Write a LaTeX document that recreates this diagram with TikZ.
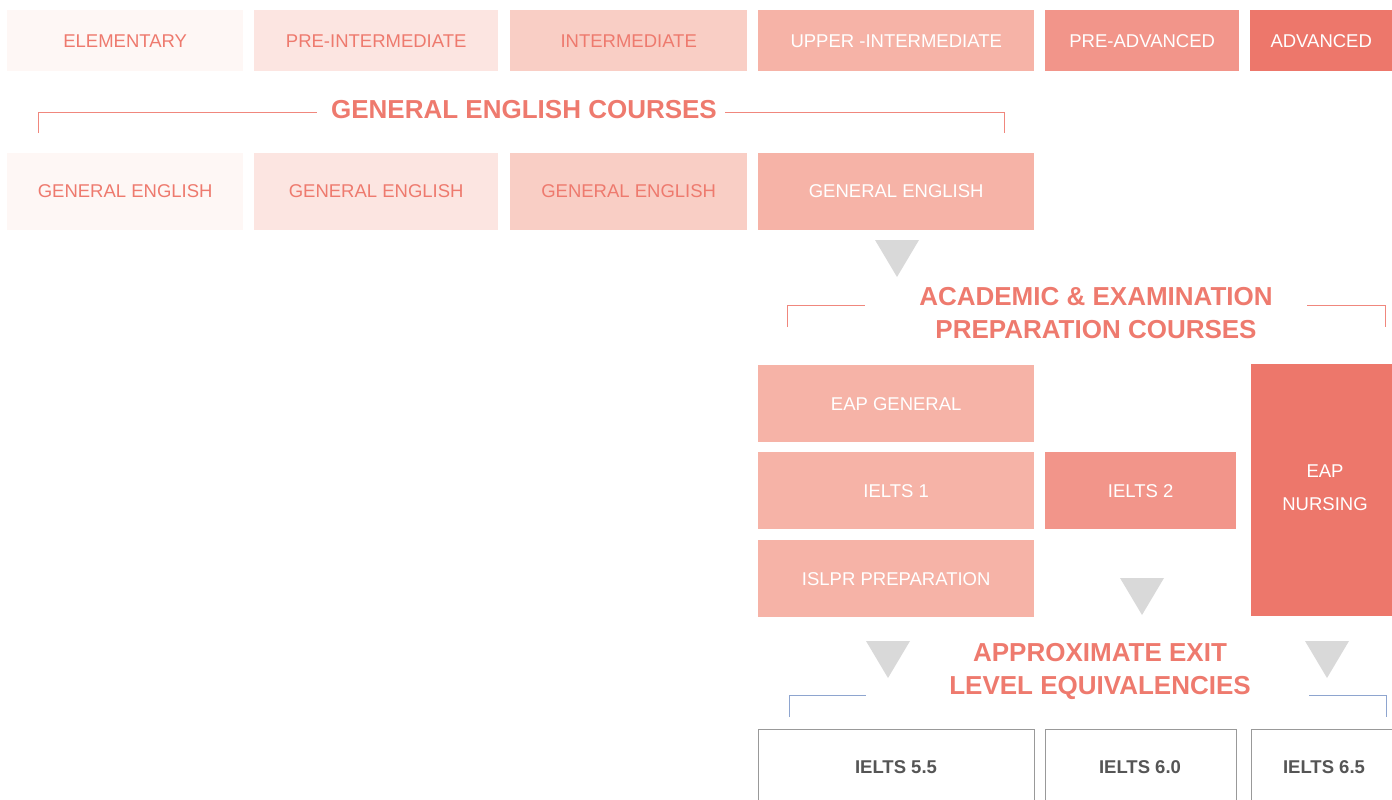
\documentclass[tikz,border=0pt]{standalone}
\usepackage{fontspec}
\setmainfont{Liberation Sans}
\usetikzlibrary{positioning}
\definecolor{lvA}{HTML}{FEF7F5}
\definecolor{lvB}{HTML}{FCE5E1}
\definecolor{lvC}{HTML}{F9CEC5}
\definecolor{lvD}{HTML}{F6B3A7}
\definecolor{lvE}{HTML}{F2958A}
\definecolor{lvF}{HTML}{ED776B}
\definecolor{salmon}{HTML}{EE7A6E}
\definecolor{trigray}{HTML}{D9D9D9}
\definecolor{exitblue}{HTML}{8EA5CF}
\definecolor{exitgray}{HTML}{555555}
\tikzset{
  lvl/.style={fill=#1, minimum height=61pt, inner sep=0pt, text=salmon,
    text height=13.2pt, text depth=0pt, font=\fontsize{18.5}{22}\selectfont},
  lvlw/.style={lvl=#1, text=white},
  crs/.style={lvl=#1, minimum height=77pt},
  crsw/.style={crs=#1, text=white},
  exitbox/.style={draw=gray!80, line width=1pt, fill=white, minimum height=90pt,
    inner sep=0pt},
  exittext/.style={text=exitgray, font=\fontsize{18.5}{22}\selectfont\bfseries},
  heading/.style={text=salmon, align=center, font=\fontsize{26}{33}\selectfont\bfseries},
  bracket/.style={draw=salmon!90, line width=1pt},
  exitbracket/.style={draw=exitblue, line width=1pt}
}
\begin{document}
\begin{tikzpicture}[x=1pt,y=-1pt,node distance=10.6pt]
\useasboundingbox (0,0) rectangle (1392,800);
\clip (0,0) rectangle (1392,800);

\node[lvl=lvA, minimum width=236pt, anchor=north west] (elem) at (7,10) {ELEMENTARY};
\node[lvl=lvB, minimum width=244pt, right=of elem] (preint) {PRE-INTERMEDIATE};
\node[lvl=lvC, minimum width=237pt, right=11.6pt of preint] (inter) {INTERMEDIATE};
\node[lvlw=lvD, minimum width=276pt, right=of inter] (upper) {UPPER -INTERMEDIATE};
\node[lvlw=lvE, minimum width=194pt, right=of upper] (preadv) {PRE-ADVANCED};
\node[lvlw=lvF, minimum width=142pt, right=of preadv] (adv) {ADVANCED};

\node[heading] (gecourses) at (524,110) {GENERAL ENGLISH COURSES};
\draw[bracket] (38,133) |- (317,112);
\draw[bracket] (725,112) -| (1004,133);

\node[crs=lvA, minimum width=236pt, below=81pt of elem] (geA) {GENERAL ENGLISH};
\node[crs=lvB, minimum width=244pt, below=81pt of preint] (geB) {GENERAL ENGLISH};
\node[crs=lvC, minimum width=237pt, below=81pt of inter] (geC) {GENERAL ENGLISH};
\node[crsw=lvD, minimum width=276pt, below=81pt of upper] (geD) {GENERAL ENGLISH};

\node[heading] (acad) at (1096,313) {ACADEMIC \& EXAMINATION\\PREPARATION COURSES};
\draw[bracket] (787,327) |- (865,305);
\draw[bracket] (1307,305) -| (1385,327);

\node[crsw=lvD, minimum width=276pt, below=135pt of geD] (eapgen) {EAP GENERAL};
\node[crsw=lvD, minimum width=276pt, below=10pt of eapgen] (ielts1) {IELTS 1};
\node[crsw=lvD, minimum width=276pt, below=of ielts1] (islpr) {ISLPR PREPARATION};
\node[crsw=lvE, minimum width=191pt, right=of ielts1] (ielts2) {IELTS 2};
\node[lvlw=lvF, minimum width=141pt, minimum height=252pt, anchor=north west] (nursing) at (1251,364) {};
\node[text=white, align=center, font=\fontsize{18.5}{33}\selectfont] (nursingtxt) at (1325,488) {EAP\\NURSING};

\foreach \x/\y in {897/240, 1142/578, 888/641, 1327/641}
  \fill[trigray] (\x-22,\y) -- (\x+22,\y) -- (\x,\y+37) -- cycle;

\node[heading] (exit) at (1100,671) {APPROXIMATE EXIT\\LEVEL EQUIVALENCIES};
\draw[exitbracket] (789,717) |- (866,695);
\draw[exitbracket] (1309,695) -| (1386,717);

\node[exitbox, minimum width=276pt, anchor=north west] (exA) at (758,729) {};
\node[exitbox, minimum width=191pt, anchor=north west] (exB) at (1045,729) {};
\node[exitbox, minimum width=160pt, anchor=north west] (exC) at (1251,729) {};
\node[exittext] (exAtxt) at (896,767) {IELTS 5.5};
\node[exittext] (exBtxt) at (1140,767) {IELTS 6.0};
\node[exittext] (exCtxt) at (1324,767) {IELTS 6.5};
\end{tikzpicture}
\end{document}
